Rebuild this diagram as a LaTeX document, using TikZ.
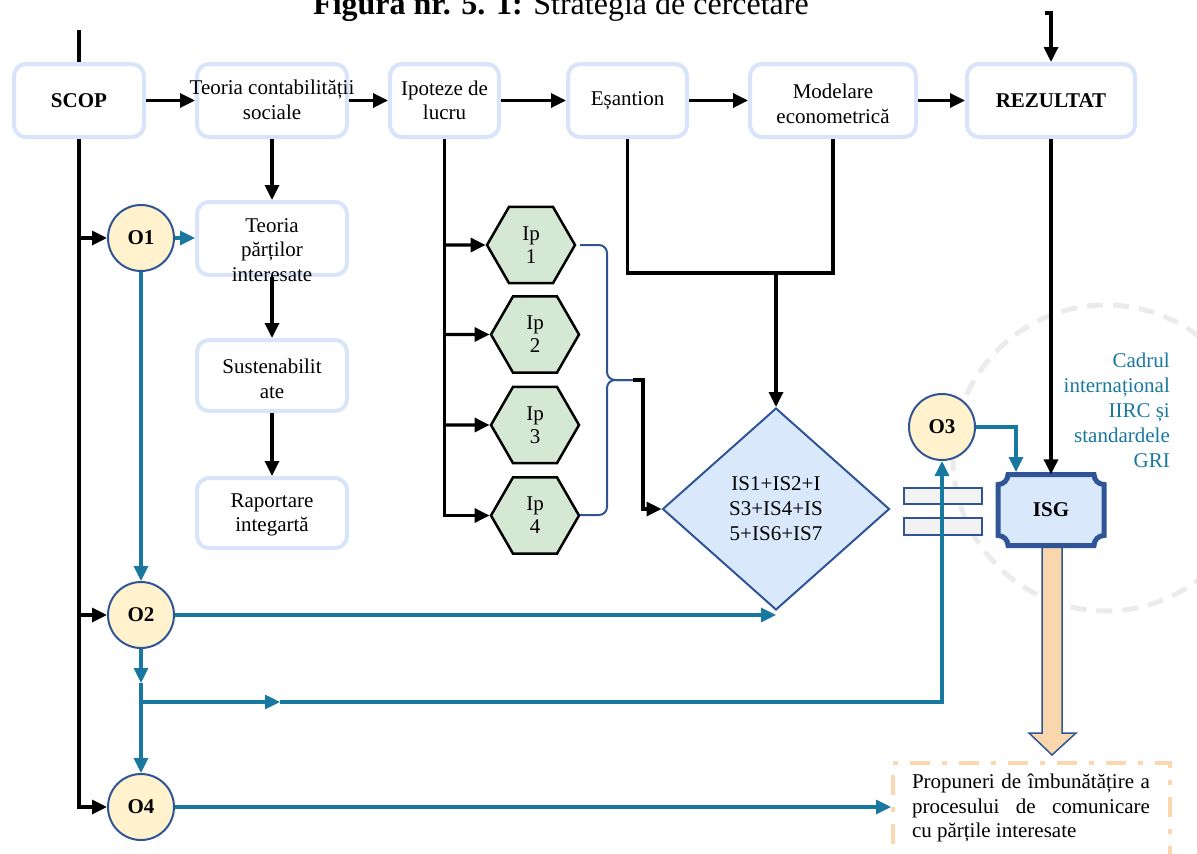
\documentclass[tikz,border=0pt]{standalone}
\usepackage{fontspec}
\setmainfont{Liberation Serif}
\usetikzlibrary{arrows.meta,shapes.geometric}
\definecolor{boxblue}{HTML}{D7E4F9}
\definecolor{dblue}{HTML}{2F5597}
\definecolor{tealc}{HTML}{1878A0}
\definecolor{oyel}{HTML}{FFF2CC}
\definecolor{hexg}{HTML}{D5E8D4}
\definecolor{diaf}{HTML}{DAE8FC}
\definecolor{rgrey}{HTML}{F2F2F2}
\definecolor{orng}{HTML}{F9D6AC}
\definecolor{pborder}{HTML}{FAD7AC}
\definecolor{dgrey}{HTML}{EBEBEB}
\begin{document}
\begin{tikzpicture}[x=1pt,y=-1pt,
  bx/.style={draw=boxblue, line width=4pt, rounded corners=12pt, fill=white, inner sep=0pt, align=center, font=\fontsize{21}{24.5}\selectfont},
  tx/.style={font=\fontsize{21}{24.5}\selectfont, align=center, inner sep=0pt},
  blk/.style={line width=3.3pt, black},
  tl/.style={line width=3.2pt, tealc},
  arr/.style={-{Triangle[length=15pt,width=14pt]}},
  oc/.style={circle, fill=oyel, draw=dblue, line width=2pt, minimum size=66pt, inner sep=0pt, font=\fontsize{21}{24}\selectfont\bfseries},
  hexa/.style={regular polygon, regular polygon sides=6, minimum size=88pt, inner sep=0pt, fill=hexg, draw=black, line width=2.5pt, font=\fontsize{21}{23}\selectfont, align=center},
  brc/.style={line width=2pt, dblue},
  smallrect/.style={rectangle, fill=rgrey, draw=dblue, line width=1.5pt, minimum width=78pt, minimum height=16pt, inner sep=0pt}
]
\useasboundingbox (0,0) rectangle (1197,854);
\clip (0,0) rectangle (1197,854);

% background dashed circle
\draw[dgrey, line width=5pt, dash pattern=on 16pt off 10pt] (1106,458) circle[radius=153];

% title
\node[anchor=base, font=\fontsize{32}{36}\selectfont, inner sep=0pt] (title) at (561,14) {\textbf{Figura nr. 5. 1:} Strategia de cercetare};

% top row boxes
\node[bx, minimum width=130pt, minimum height=73pt, font=\fontsize{21}{24.5}\selectfont\bfseries] (scop) at (79,100.5) {SCOP};
\node[bx, minimum width=150pt, minimum height=73pt] (t1) at (272,100.5) {};
\node[tx] (t1T) at (272,100) {Teoria contabilității\\sociale};
\node[bx, minimum width=109pt, minimum height=73pt] (ip) at (444.5,100.5) {Ipoteze de\\lucru};
\node[bx, minimum width=119pt, minimum height=73pt] (es) at (627.5,100.5) {Eșantion};
\node[bx, minimum width=166pt, minimum height=73pt] (mod) at (833,100.5) {};
\node[tx] (modT) at (833,104) {Modelare\\econometrică};
\node[bx, minimum width=168pt, minimum height=73pt, font=\fontsize{21}{24.5}\selectfont\bfseries] (rez) at (1051,100.5) {REZULTAT};

% left column boxes
\node[bx, minimum width=150pt, minimum height=73pt] (tp) at (272,238.5) {};
\node[tx] (tpT) at (272,250) {Teoria\\părților\\interesate};
\node[bx, minimum width=150pt, minimum height=71pt] (sus) at (272,375.5) {};
\node[tx] (susT) at (272,379) {Sustenabilit\\ate};
\node[bx, minimum width=150pt, minimum height=70pt] (rap) at (272,513) {};
\node[tx] (rapT) at (272,515) {Raportare\\integartă};

% circles
\node[oc] (o1) at (141,238) {O1};
\node[oc] (o2) at (141,615) {O2};
\node[oc] (o4) at (141,807) {O4};
\node[oc] (o3) at (942,427) {O3};

% hexagons
\node[hexa] (h1) at (531,245) {Ip\\1};
\node[hexa] (h2) at (535,334.5) {Ip\\2};
\node[hexa] (h3) at (535,425) {Ip\\3};
\node[hexa] (h4) at (535,515.5) {Ip\\4};

% diamond
\node[diamond, minimum width=227pt, minimum height=202pt, inner sep=0pt, fill=diaf, draw=dblue, line width=2pt, font=\fontsize{21}{25}\selectfont, align=center] (dia) at (776,509) {IS1+IS2+I\\S3+IS4+IS\\5+IS6+IS7};

% small rectangles
\node[smallrect] (r1) at (943,496) {};
\node[smallrect, minimum height=17pt] (r2) at (943,526.5) {};

% orange block arrow
\filldraw[fill=orng, draw=dblue, line width=1.5pt] (1042,547) -- (1062,547) -- (1062,733) -- (1076,733) -- (1052,755) -- (1029,733) -- (1042,733) -- cycle;

% ISG plaque
\filldraw[fill=diaf, draw=dblue, line width=5pt] (1008,474.5) -- (1094,474.5) arc(180:90:10) -- (1104,535.5) arc(270:180:10) -- (1008,545.5) arc(360:270:10) -- (998,484.5) arc(90:0:10) -- cycle;
\node[inner sep=0pt, minimum width=106pt, minimum height=71pt, font=\fontsize{21}{24}\selectfont\bfseries] (isg) at (1051,510) {ISG};

% Cadrul text
\node[tx, align=right, text=tealc, anchor=east, font=\fontsize{21}{25}\selectfont] (cad) at (1170,410) {Cadrul\\internațional\\IIRC și\\standardele\\GRI};

% Propuneri box
\node[draw=pborder, line width=4pt, dash pattern=on 20pt off 12pt on 5pt off 12pt, minimum width=277pt, minimum height=120pt, anchor=north west, inner sep=0pt] (prop) at (891,761) {};
\node[tx, text width=238pt, align=justify] (propT) at (1031,808) {Propuneri de îmbunătățire a\linebreak procesului de comunicare\linebreak cu părțile interesate};

% black connectors
\coordinate (top1) at (79,30);
\coordinate (top2) at (1045,13);
\draw[blk] (top1) -- (scop.north);
\draw[blk,arr] (top2) -| (rez.north);
\draw[blk,arr] (scop.east) -- (t1.west);
\draw[blk,arr] (t1.east) -- (ip.west);
\draw[blk,arr] (ip.east) -- (es.west);
\draw[blk,arr] (es.east) -- (mod.west);
\draw[blk,arr] (mod.east) -- (rez.west);
\draw[blk,arr] (scop.south) |- (o4.west);
\draw[blk,arr] (scop.south |- o1) -- (o1.west);
\draw[blk,arr] (scop.south |- o2) -- (o2.west);
\draw[blk,arr] (t1.south) -- (tp.north);
\draw[blk,arr] (tp.south) -- (sus.north);
\draw[blk,arr] (sus.south) -- (rap.north);
\draw[blk,arr] (ip.south) |- (h4.west);
\foreach \h in {h1,h2,h3} { \draw[blk,arr] (ip.south |- \h) -- (\h.west); }
\coordinate (j) at (776,273);
\draw[blk] (es.south) |- (j) -| (mod.south);
\draw[blk,arr] (j) -- (dia.north);
\draw[blk,arr] (rez.south) -- (isg.north);

% brace
\coordinate (b1) at (580,245);
\coordinate (b2) at (580,515);
\coordinate (bm) at (607,380);
\coordinate (bt) at (633,380);
\coordinate (bk) at (643,380);
\draw[brc, rounded corners=8pt] (b1) -| (bm) -- (bt);
\draw[brc, rounded corners=8pt] (b2) -| (bm) -- (bt);
\draw[blk,arr] (bt) -- (bk) |- (dia.west);

% teal connectors
\coordinate (m1) at (141,683);
\coordinate (br) at (141,702);
\coordinate (m2) at (280,702);
\coordinate (isgin) at (1016,472);
\draw[tl,arr] (o1.east) -- (o1 -| tp.west);
\draw[tl,arr] (o1.south) -- (o2.north);
\draw[tl,arr] (o2.east) -- (o2 -| dia.south);
\draw[tl,arr] (o2.south) -- (m1);
\draw[tl,arr] (m1) -- (o4.north);
\draw[tl,arr] (br) -- (m2);
\draw[tl,arr] (m2) -| (o3.south);
\draw[tl,arr] (o3.east) -| (isgin);
\draw[tl,arr] (o4.east) -- (o4 -| prop.west);
\end{tikzpicture}
\end{document}
